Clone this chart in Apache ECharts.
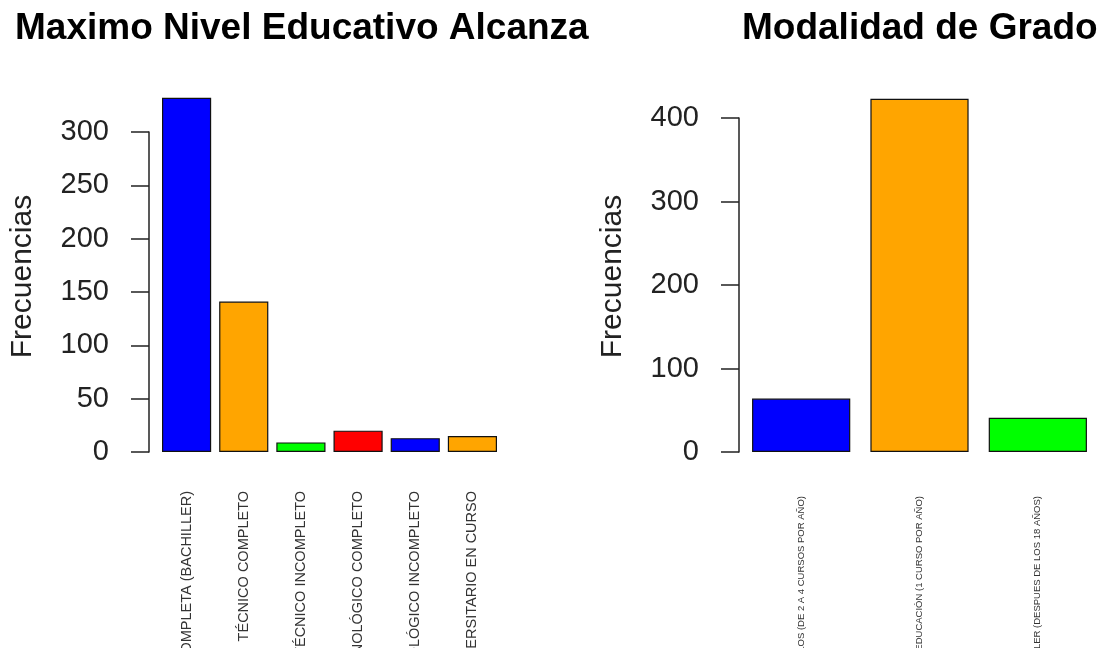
<!DOCTYPE html>
<html>
<head>
<meta charset="utf-8">
<script src="https://cdn.jsdelivr.net/npm/echarts@6/dist/echarts.min.js"></script>
<style>
  html, body { margin: 0; padding: 0; background: #fff; }
  #chart { width: 1104px; height: 648px; }
</style>
</head>
<body>
<div id="chart"></div>
<script>
// niveles educativos
const nivelCategories = [
  'MEDIA COMPLETA (BACHILLER)',
  'TÉCNICO COMPLETO',
  'TÉCNICO INCOMPLETO',
  'TECNOLÓGICO COMPLETO',
  'TECNOLÓGICO INCOMPLETO',
  'UNIVERSITARIO EN CURSO'
]
const nivelValues = [332, 141, 9, 20, 13, 15]
const nivelTicks = [0, 50, 100, 150, 200, 250, 300]

// modalidad de grado
const modalidadCategories = [
  'CICLOS (DE 2 A 4 CURSOS POR AÑO)',
  'EDUCACIÓN (1 CURSO POR AÑO)',
  'VALIDACIÓN BACHILLER (DESPUES DE LOS 18 AÑOS)'
]
const modalidadValues = [64, 423, 41]
const modalidadTicks = [0, 100, 200, 300, 400]

const palette = ['#0000ff', '#ffa500', '#00ff00', '#ff0000']
const font = '"Liberation Sans", Arial, sans-serif'

function yAxisFor(ticks, gridIndex, offset, namePad) {
  return {
    type: 'value',
    gridIndex,
    min: ticks[0],
    max: ticks[ticks.length - 1],
    interval: ticks[1] - ticks[0],
    offset,
    name: 'Frecuencias',
    nameLocation: 'middle',
    nameGap: 111,
    nameTextStyle: { fontFamily: font, fontSize: 30, color: '#222', padding: namePad },
    axisLine: { show: true, lineStyle: { color: '#222', width: 1.5 } },
    axisTick: { show: true, length: 18, lineStyle: { color: '#222', width: 1.5 } },
    axisLabel: { margin: 40, fontFamily: font, fontSize: 29, color: '#222' },
    splitLine: { show: false }
  }
}

function xAxisFor(categories, gridIndex, fontSize, margin) {
  return {
    type: 'category',
    gridIndex,
    data: categories,
    axisLine: { show: false },
    axisTick: { show: false },
    axisLabel: { rotate: 90, interval: 0, margin, fontFamily: font, fontSize, color: '#333' }
  }
}

function barSeries(values, idx, width) {
  return {
    type: 'bar',
    xAxisIndex: idx,
    yAxisIndex: idx,
    clip: false,
    barWidth: width,
    data: values.map((v, i) => ({ value: v, itemStyle: { color: palette[i % palette.length] } })),
    itemStyle: { borderColor: '#111', borderWidth: 1.2 }
  }
}

const chart = echarts.init(document.getElementById('chart'))
chart.setOption({
  backgroundColor: '#fff',
  animation: false,
  title: [
    {
      text: 'Maximo Nivel Educativo Alcanza',
      left: 10,
      top: 5,
      textStyle: { fontFamily: font, fontSize: 37, fontWeight: 'bold', color: '#000' }
    },
    {
      text: 'Modalidad de Grado',
      left: 737,
      top: 5,
      textStyle: { fontFamily: font, fontSize: 37, fontWeight: 'bold', color: '#000' }
    }
  ],
  grid: [
    { left: 158, top: 132, width: 343, height: 320, containLabel: false, outerBoundsMode: 'none' },
    { left: 742, top: 118, width: 355, height: 334, containLabel: false, outerBoundsMode: 'none' }
  ],
  xAxis: [
    xAxisFor(nivelCategories, 0, 14.5, 39),
    xAxisFor(modalidadCategories, 1, 9.5, 44)
  ],
  yAxis: [
    yAxisFor(nivelTicks, 0, 9, [0, 0, 0, 31]),
    yAxisFor(modalidadTicks, 1, 3, [0, 0, 0, 17])
  ],
  series: [
    barSeries(nivelValues, 0, '86%'),
    barSeries(modalidadValues, 1, '83%')
  ]
})
</script>
</body>
</html>
